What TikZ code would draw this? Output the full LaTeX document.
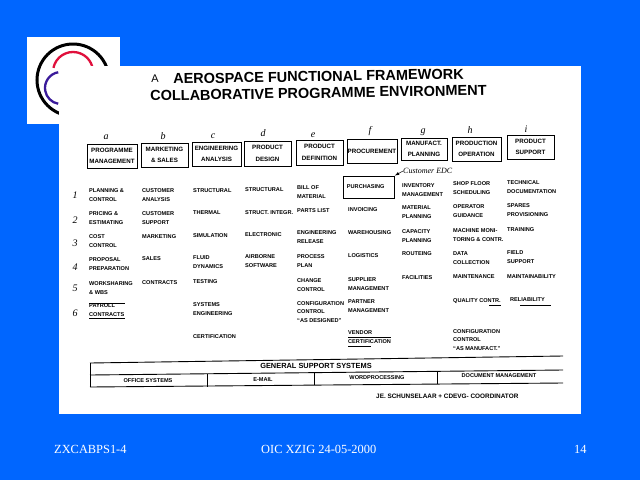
\documentclass[tikz,border=0pt]{standalone}
\usepackage{fontspec}
\setmainfont{Liberation Sans}
\newfontfamily\slidefont{Liberation Serif}
\definecolor{slideblue}{HTML}{0066FF}
\definecolor{logored}{HTML}{E0103C}
\definecolor{logoblue}{HTML}{3A1A9A}
\begin{document}
\begin{tikzpicture}[
x=1pt,y=-1pt,
headbox/.style={
  draw,
  line width=0.9pt,
  align=center,
  inner sep=0pt,
  font=\fontsize{6.2}{11.5}\selectfont\bfseries
  },
itemtext/.style={
  anchor=west,
  align=left,
  inner sep=0pt,
  font=\fontsize{5.6}{8.2}\selectfont\bfseries
  },
celltext/.style={
  inner sep=0pt,
  font=\fontsize{5.6}{7}\selectfont\bfseries
  },
titletext/.style={
  anchor=west,
  inner sep=0pt,
  rotate=1,
  font=\fontsize{14.5}{18}\selectfont\bfseries
  },
handtext/.style={
  inner sep=0pt,
  font=\fontsize{10}{10}\slidefont\itshape
  },
slidetext/.style={
  anchor=west,
  inner sep=0pt,
  text=white,
  font=\fontsize{12.4}{14}\slidefont
  },
tableline/.style={line width=0.9pt},
underline/.style={line width=0.6pt}
]
\useasboundingbox (0,0) rectangle (640,480);
\fill[slideblue] (0,0) rectangle (640,480);
% logo behind the sheet
\fill[white] (27,37) rectangle (120,124);
\draw[line width=3pt] (73,80) circle (36);
\draw[logored,line width=2.3pt] (73,72) ++(192:20) arc[start angle=192,end angle=350,radius=20];
\draw[logoblue,line width=2.3pt] (61,88) ++(260:16) arc[start angle=260,end angle=100,radius=16];
% scanned sheet
\fill[white] (59,66) rectangle (581,414);
\node[titletext] (mark) at (151,79) {\fontsize{11}{11}\selectfont\mdseries A};
\node[titletext] (title1) at (173,79) {AEROSPACE FUNCTIONAL FRAMEWORK};
\node[titletext] (title2) at (150,96) {COLLABORATIVE PROGRAMME ENVIRONMENT};
% column heads
\foreach \Name/\Xpos/\Ypos/\Wd/\Ht/\Text in {
  a/112/156/50/24/{PROGRAMME\\MANAGEMENT},
  b/164.5/155/47/24/{MARKETING\\\& SALES},
  c/216.5/154/49/24/{ENGINEERING\\ANALYSIS},
  d/267.5/153.5/47/25/{PRODUCT\\DESIGN},
  e/319.5/152.5/47/25/{PRODUCT\\DEFINITION},
  f/372/151/50/24/{PROCUREMENT},
  g/424/149/46/22/{MANUFACT.\\PLANNING},
  h/476.5/149/49/24/{PRODUCTION\\OPERATION},
  i/530.5/147/47/24/{PRODUCT\\SUPPORT}}
  \node[headbox,minimum width=\Wd,minimum height=\Ht] (head\Name) at (\Xpos,\Ypos) {\Text};
% handwritten marks
\foreach \Name/\Xpos/\Ypos in {a/106/137,b/163/136,c/213/136,d/263/133,e/313/135,f/370/131,g/423/132,h/470/130,i/526/129}
  \node[handtext] (letter\Name) at (\Xpos,\Ypos) {\Name};
\foreach \Value/\Ypos in {1/195,2/220,3/243,4/267,5/288,6/313}
  \node[handtext] (row\Value) at (75,\Ypos) {\Value};
% entries
\foreach \Name/\Xpos/\Ypos/\Text in {
  a1/89/195/{PLANNING \&\\CONTROL},
  a2/89/218/{PRICING \&\\ESTIMATING},
  a3/89/241/{COST\\CONTROL},
  a4/89/264/{PROPOSAL\\PREPARATION},
  a5/89/288/{WORKSHARING\\\& WBS},
  a6/89/310/{PAYROLL\\CONTRACTS},
  b1/142/195/{CUSTOMER\\ANALYSIS},
  b2/142/218/{CUSTOMER\\SUPPORT},
  b3/142/237/{MARKETING},
  b4/142/259/{SALES},
  b5/142/283/{CONTRACTS},
  c1/193/191/{STRUCTURAL},
  c2/193/213/{THERMAL},
  c3/193/236/{SIMULATION},
  c4/193/262/{FLUID\\DYNAMICS},
  c5/193/282/{TESTING},
  c6/193/309/{SYSTEMS\\ENGINEERING},
  c7/193/337/{CERTIFICATION},
  d1/245/190/{STRUCTURAL},
  d2/245/213/{STRUCT. INTEGR.},
  d3/245/235/{ELECTRONIC},
  d4/245/261/{AIRBORNE\\SOFTWARE},
  e1/297/192/{BILL OF\\MATERIAL},
  e2/297/211/{PARTS LIST},
  e3/297/237/{ENGINEERING\\RELEASE},
  e4/297/261/{PROCESS\\PLAN},
  e5/297/285/{CHANGE\\CONTROL},
  e6/297/312/{CONFIGURATION\\CONTROL\\``AS DESIGNED''},
  f2/348/210/{INVOICING},
  f3/348/233/{WAREHOUSING},
  f4/348/256/{LOGISTICS},
  f5/348/284/{SUPPLIER\\MANAGEMENT},
  f6/348/306/{PARTNER\\MANAGEMENT},
  f7/348/337/{VENDOR\\CERTIFICATION},
  g1/402/190/{INVENTORY\\MANAGEMENT},
  g2/402/212/{MATERIAL\\PLANNING},
  g3/402/236/{CAPACITY\\PLANNING},
  g4/402/254/{ROUTEING},
  g5/402/278/{FACILITIES},
  h1/453/188/{SHOP FLOOR\\SCHEDULING},
  h2/453/211/{OPERATOR\\GUIDANCE},
  h3/453/235/{MACHINE MONI-\\TORING \& CONTR.},
  h4/453/258/{DATA\\COLLECTION},
  h5/453/277/{MAINTENANCE},
  h6/453/301/{QUALITY CONTR.},
  h7/453/340/{CONFIGURATION\\CONTROL\\``AS MANUFACT.''},
  i1/507/187/{TECHNICAL\\DOCUMENTATION},
  i2/507/210/{SPARES\\PROVISIONING},
  i3/507/230/{TRAINING},
  i4/507/257/{FIELD\\SUPPORT},
  i5/507/277/{MAINTAINABILITY},
  i6/510/300/{RELIABILITY}}
  \node[itemtext] (item\Name) at (\Xpos,\Ypos) {\Text};
% marked entry and remark
\node[itemtext,draw,line width=0.9pt,minimum width=51,minimum height=22,inner sep=0pt,text width=44,inner xsep=3.5] (itemf1) at (343,187) {PURCHASING};
\node[handtext,anchor=west,font=\fontsize{8}{8}\slidefont\itshape] (remark) at (403,171) {Customer EDC};
\draw[-latex,line width=0.5pt] (remark.west) -- (itemf1.north east);
% hand strokes under entries
\draw[underline] (itema6.north west) -- (itema6.north east);
\draw[underline] ([yshift=-2]itema6.south west) -- ([yshift=-2]itema6.south east);
\draw[underline] (itemf7.west) -- (itemf7.east);
\draw[underline] ([yshift=-3]itemf7.south west) -- ([xshift=-20,yshift=-3]itemf7.south east);
\draw[underline] ([xshift=-12,yshift=-2]itemh6.south east) -- ([yshift=-2]itemh6.south east);
\draw[underline] ([xshift=10,yshift=-3]itemi6.south west) -- ([xshift=6,yshift=-3]itemi6.south east);
% support systems table
\coordinate (tl) at (90,363);
\coordinate (tr) at (563,356);
\coordinate (ml) at (90,375);
\coordinate (mr) at (563,370);
\coordinate (bl) at (90,387);
\coordinate (br) at (563,383);
\coordinate (cut1t) at (207,374);
\coordinate (cut1b) at (207,387);
\coordinate (cut2t) at (314,372.5);
\coordinate (cut2b) at (314,385);
\coordinate (cut3t) at (437,371);
\coordinate (cut3b) at (437,384);
\draw[tableline] (tl) -- (tr);
\draw[tableline] (ml) -- (mr);
\draw[tableline] (bl) -- (br);
\draw[tableline] (tl) -- (bl);
\draw[tableline] (cut1t) -- (cut1b);
\draw[line width=0.4pt] (cut2t) -- (cut2b);
\draw[tableline] (cut3t) -- (cut3b);
\node[celltext,font=\fontsize{7.4}{9}\selectfont\bfseries] (general) at (316,365.5) {GENERAL SUPPORT SYSTEMS};
\node[celltext] (office) at (148,381) {OFFICE SYSTEMS};
\node[celltext] (email) at (263,380) {E-MAIL};
\node[celltext] (words) at (377,378) {WORDPROCESSING};
\node[celltext] (docs) at (499,375.5) {DOCUMENT MANAGEMENT};
\node[celltext,anchor=west,font=\fontsize{6.4}{8}\selectfont\bfseries] (signed) at (376,396) {JE. SCHUNSELAAR + CDEVG- COORDINATOR};
% slide footer
\node[slidetext] (footl) at (54,449) {ZXCABPS1-4};
\node[slidetext] (footm) at (261,449) {OIC XZIG 24-05-2000};
\node[slidetext] (footr) at (574,449) {14};
\end{tikzpicture}
\end{document}
